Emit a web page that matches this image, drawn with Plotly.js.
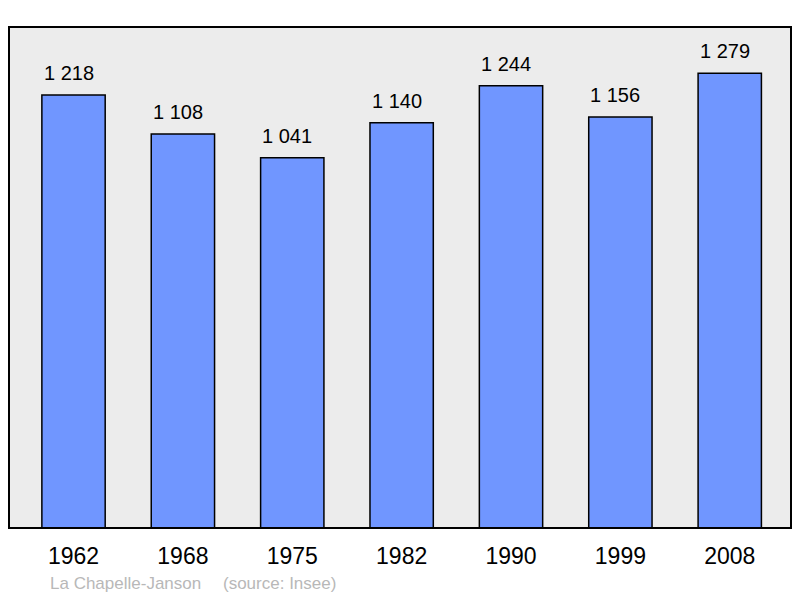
<!DOCTYPE html>
<html>
<head>
<meta charset="utf-8">
<script src="https://cdn.plot.ly/plotly-3.0.1.min.js"></script>
<style>html,body{margin:0;padding:0;background:#fff;}#chart{width:800px;height:598px;}</style>
</head>
<body>
<div id="chart"></div>
<script>
const years = ["1962", "1968", "1975", "1982", "1990", "1999", "2008"];
const population = [1218, 1108, 1041, 1140, 1244, 1156, 1279];
const commune = "La Chapelle-Janson";
const source = "(source: Insee)";

function fmt(v) {
  return String(v).replace(/\B(?=(\d{3})+(?!\d))/g, " ");
}

const trace = {
  type: "bar",
  x: years,
  y: population,
  width: 0.579,
  marker: { color: "#7096ff", line: { color: "#000", width: 1.5 } },
  hoverinfo: "none"
};

const labelAnnotations = years.map((yr, i) => ({
  x: i, y: population[i], xref: "x", yref: "y",
  text: fmt(population[i]), showarrow: false,
  yanchor: "middle", yshift: 22, xshift: -5,
  font: { family: "Liberation Sans, Arial, sans-serif", size: 20, color: "#000" }
}));

const layout = {
  width: 800, height: 598,
  margin: { l: 9, r: 9, t: 27, b: 70 },
  paper_bgcolor: "#ffffff",
  plot_bgcolor: "#ececec",
  showlegend: false,
  xaxis: {
    type: "category",
    range: [-0.59, 6.56],
    showgrid: false, zeroline: false, showline: false,
    ticks: "",
    tickfont: { family: "Liberation Sans, Arial, sans-serif", size: 23, color: "#000" },
    ticklabelstandoff: 12
  },
  yaxis: {
    range: [0, 1409],
    showgrid: false, zeroline: false, showline: false,
    showticklabels: false, ticks: ""
  },
  shapes: [{
    type: "rect", xref: "paper", yref: "paper",
    x0: 0, x1: 1, y0: 0, y1: 1,
    line: { color: "#000", width: 2 }, fillcolor: "rgba(0,0,0,0)", layer: "above"
  }],
  annotations: labelAnnotations.concat([
    {
      xref: "paper", yref: "paper", x: (48 - 9) / 782, y: 0, yshift: -55,
      xanchor: "left", yanchor: "middle", showarrow: false, text: commune,
      font: { family: "Liberation Sans, Arial, sans-serif", size: 17, color: "#b8b8b8" }
    },
    {
      xref: "paper", yref: "paper", x: (221 - 9) / 782, y: 0, yshift: -55,
      xanchor: "left", yanchor: "middle", showarrow: false, text: source,
      font: { family: "Liberation Sans, Arial, sans-serif", size: 17, color: "#b8b8b8" }
    }
  ])
};

Plotly.newPlot("chart", [trace], layout, { staticPlot: true, displayModeBar: false });
</script>
</body>
</html>
